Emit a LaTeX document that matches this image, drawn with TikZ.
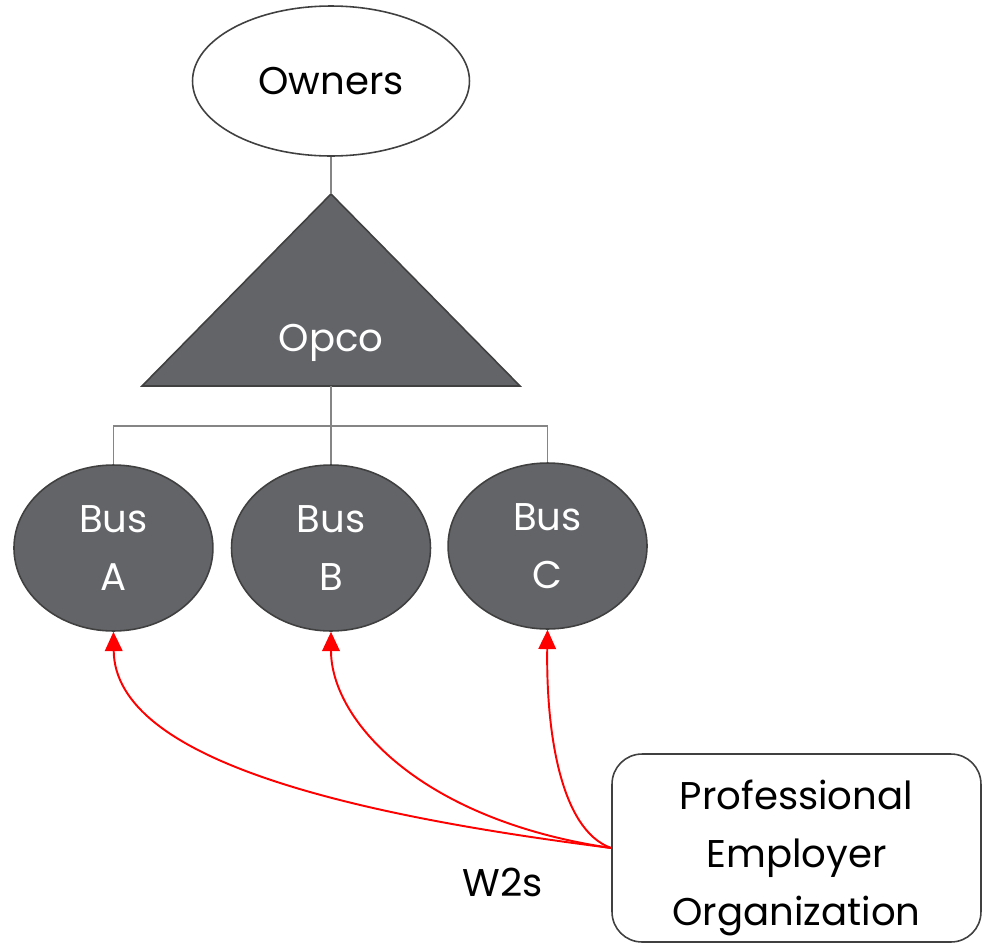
\documentclass[tikz,border=0pt]{standalone}
\usepackage{fontspec}
\setmainfont{Poppins}
\usetikzlibrary{arrows.meta,calc,shapes.geometric,positioning}

\definecolor{unitgray}{HTML}{636468}
\definecolor{edgegray}{HTML}{404040}
\definecolor{linkgray}{HTML}{858585}

\tikzset{
  big/.style={font=\fontsize{22}{33}\selectfont},
  owner/.style={ellipse, draw=edgegray, line width=0.9pt, fill=white,
    minimum width=5.54cm, minimum height=3cm, inner sep=0pt, big},
  unit/.style={ellipse, draw=edgegray, line width=0.9pt, fill=unitgray,
    text=white, minimum width=3.98cm, minimum height=3.32cm, inner sep=0pt,
    align=center, big},
  peobox/.style={rectangle, rounded corners=0.6cm, draw=edgegray,
    line width=0.9pt, minimum width=7.38cm, minimum height=3.76cm},
  link/.style={draw=linkgray, line width=0.7pt},
  payroll/.style={red, line width=1.1pt, -{Triangle[length=11pt,width=10pt]}}
}

\begin{document}
\begin{tikzpicture}[x=0.02cm, y=-0.02cm]
\useasboundingbox (0,0) rectangle (985,944);

\node[owner] (owners) at (331,81) {Owners};

% opco triangle
\coordinate (apex) at (331,194);
\coordinate (baseL) at (142,386);
\coordinate (baseR) at (520,386);
\coordinate (base) at (331,386);
\filldraw[fill=unitgray, draw=edgegray, line width=0.9pt] (apex) -- (baseR) -- (baseL) -- cycle;
\node[big, text=white] (opco) at (331,343) {Opco};
\draw[link] (owners.south) -- (apex);

% businesses
\node[unit] (busB) at (331,548) {Bus\\B};
\node[unit, left=0.34cm of busB] (busA) {Bus\\A};
\node[unit, right=0.32cm of busB, yshift=0.04cm] (busC) {Bus\\C};

\coordinate (fork) at (331,426);
\draw[link] (base) -- (busB.north);
\draw[link] (busA.north) |- (fork) -| (busC.north);

% employer org
\node[peobox, label={[big, align=center, yshift=-5.5pt]center:Professional\\Employer\\Organization}] (peo) at (796.5,848) {};

\draw[payroll] (peo.west) .. controls (350,815) and (115,760) .. (busA.south);
\draw[payroll] (peo.west) .. controls (420,820) and (331,720) .. (busB.south);
\draw[payroll] (peo.west) .. controls (560,830) and (546,730) .. (busC.south);

\node[big] (w2s) at (503,882) {W2s};

\end{tikzpicture}
\end{document}
